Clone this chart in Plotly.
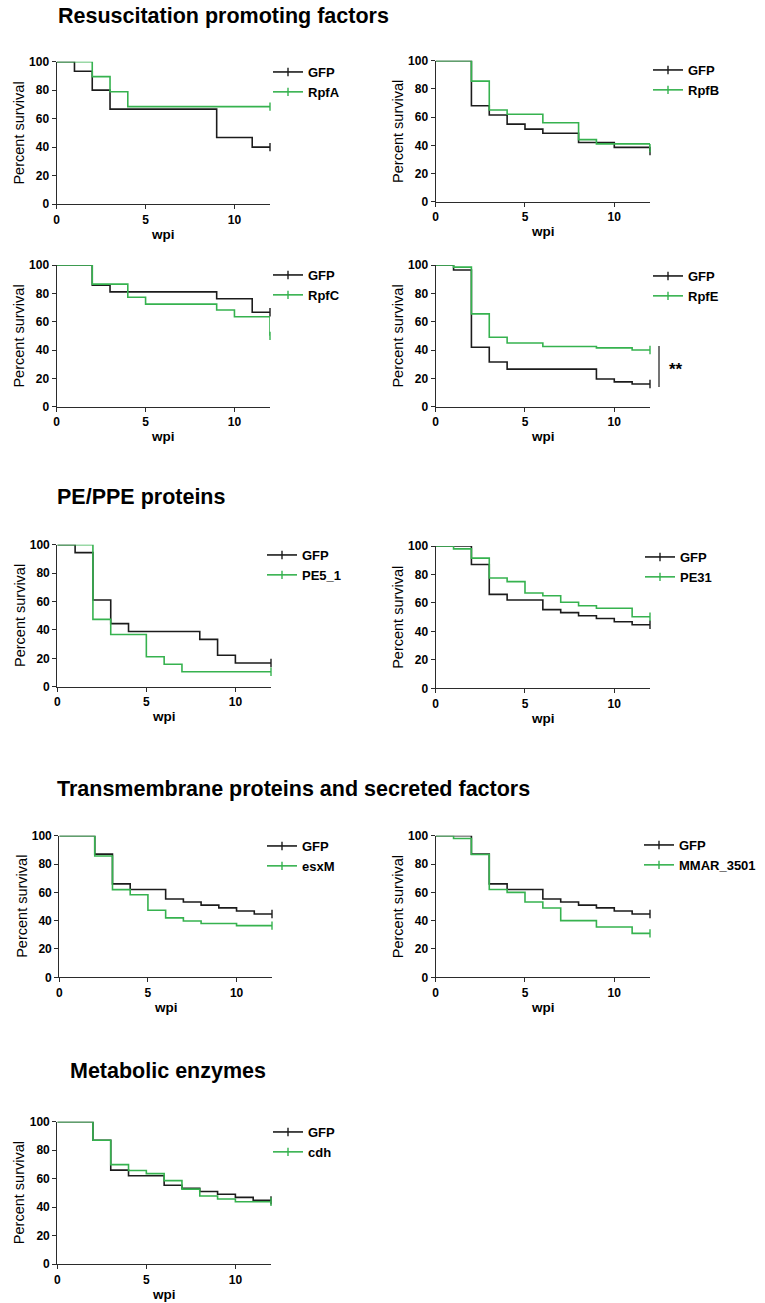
import plotly.graph_objects as go

W, H = 765, 1303
GREEN = "#36b24f"
BLACK = "#1c1c1c"
AXC = "#2b2b2b"
FONT = "Liberation Sans"

# ---------------- data (weeks post infection, percent survival) ----------------
gfp_a_t = [0, 1, 2, 3, 9, 11, 12]
gfp_a_s = [100, 93.3, 80, 66.7, 46.7, 40, 40]
rpfA_t = [0, 2, 3, 4, 12]
rpfA_s = [100, 89.5, 78.9, 68.4, 68.4]

gfp_b_t = [0, 2, 3, 4, 5, 6, 8, 10, 12]
gfp_b_s = [100, 68, 61.5, 55, 51.5, 48.5, 42, 38.5, 36]
rpfB_t = [0, 2, 3, 4, 6, 8, 9, 12]
rpfB_s = [100, 85.5, 65, 62, 56, 44, 41, 38]

gfp_c_t = [0, 2, 3, 9, 11, 12]
gfp_c_s = [100, 85.7, 81, 76.2, 66.7, 66.7]
rpfC_t = [0, 2, 4, 5, 9, 10, 12]
rpfC_s = [100, 86.5, 77.2, 72.4, 68.2, 63.5, 50]

gfp_e_t = [0, 1, 2, 3, 4, 9, 10, 11, 12]
gfp_e_s = [100, 96.5, 42, 31.5, 26.5, 19.5, 17.5, 16, 16]
rpfE_t = [0, 1, 2, 3, 4, 6, 9, 11, 12]
rpfE_s = [100, 98.5, 65.5, 49, 45, 42.5, 41.5, 40, 40]

gfp_pe5_t = [0, 1, 2, 3, 4, 8, 9, 10, 12]
gfp_pe5_s = [100, 94.4, 61.1, 44.4, 38.9, 33.3, 22.2, 16.7, 16.7]
pe5_t = [0, 2, 3, 5, 6, 7, 12]
pe5_s = [100, 47.4, 36.8, 21.1, 15.8, 10.5, 10.5]

gfp_tm_t = [0, 2, 3, 4, 6, 7, 8, 9, 10, 11, 12]
gfp_tm_s = [100, 87, 66, 62, 55.3, 53.2, 51, 49, 46.8, 44.7, 44.7]
pe31_t = [0, 1, 2, 3, 4, 5, 6, 7, 8, 9, 11, 12]
pe31_s = [100, 98, 91.5, 77.5, 75, 67, 65, 60.5, 58, 56.3, 50.3, 50.3]

esxM_t = [0, 2, 3, 4, 5, 6, 7, 8, 10, 12]
esxM_s = [100, 85.7, 61.9, 58.3, 47.4, 42, 39.8, 38, 36.5, 36.5]

mmar_t = [0, 1, 2, 3, 4, 5, 6, 7, 9, 11, 12]
mmar_s = [100, 98, 86.7, 62, 60, 53.2, 48.9, 40, 35.5, 31, 31]

cdh_t = [0, 2, 3, 4, 5, 6, 7, 8, 9, 10, 12]
cdh_s = [100, 87, 69.8, 65.7, 63.5, 58.6, 52.6, 47.8, 45.7, 43.7, 43.7]

x_ticks = [0, 5, 10]
y_ticks = [0, 20, 40, 60, 80, 100]
section_titles = ["Resuscitation promoting factors", "PE/PPE proteins",
                  "Transmembrane proteins and secreted factors", "Metabolic enzymes"]

panels = [
    (gfp_a_t, gfp_a_s, "RpfA", rpfA_t, rpfA_s),
    (gfp_b_t, gfp_b_s, "RpfB", rpfB_t, rpfB_s),
    (gfp_c_t, gfp_c_s, "RpfC", rpfC_t, rpfC_s),
    (gfp_e_t, gfp_e_s, "RpfE", rpfE_t, rpfE_s),
    (gfp_pe5_t, gfp_pe5_s, "PE5_1", pe5_t, pe5_s),
    (gfp_tm_t, gfp_tm_s, "PE31", pe31_t, pe31_s),
    (gfp_tm_t, gfp_tm_s, "esxM", esxM_t, esxM_s),
    (gfp_tm_t, gfp_tm_s, "MMAR_3501", mmar_t, mmar_s),
    (gfp_tm_t, gfp_tm_s, "cdh", cdh_t, cdh_s),
]

# ---------------- layout geometry (pixels) ----------------
boxes = [  # x at 0, x at 12, y at 100, y at 0
    (56.7, 270, 61.7, 204),
    (435.7, 650, 60.7, 201.7),
    (56.7, 270, 265, 406.7),
    (435.7, 650, 265, 406.7),
    (57.3, 271, 544.7, 686.7),
    (435.7, 650, 546, 688.3),
    (59.3, 272, 835.7, 977.3),
    (435.7, 650, 835.7, 977.3),
    (57.3, 271, 1121.7, 1264),
]
legend_xy = [  # left, top
    (268, 57), (648, 55), (268, 260), (648, 261), (262, 540),
    (640, 542), (262, 831), (639, 830), (268, 1117),
]
title_xy = [(56, 16), (55, 497), (55, 789), (68, 1071)]

fig = go.Figure()
layout = dict(
    template="none",
    width=W, height=H, autosize=False,
    margin=dict(l=0, r=0, t=0, b=0, pad=0),
    paper_bgcolor="white", plot_bgcolor="white",
    font=dict(family=FONT, color="black"),
    annotations=[], shapes=[],
)

bold = dict(family=FONT, size=12, color="black", weight="bold")

for i, (gt, gs, tname, tt, ts) in enumerate(panels):
    n = i + 1
    sfx = "" if n == 1 else str(n)
    xa, ya, lg = "x" + sfx, "y" + sfx, "legend" + sfx
    x0, x12, y100, y0 = boxes[i]
    for name, t, s, col in [("GFP", gt, gs, BLACK), (tname, tt, ts, GREEN)]:
        fig.add_trace(go.Scatter(
            x=t, y=s, mode="lines", line=dict(color=col, width=1.6, shape="hv"),
            xaxis=xa, yaxis=ya, showlegend=False, cliponaxis=False, hoverinfo="skip"))
        fig.add_trace(go.Scatter(
            x=t[-1:], y=s[-1:], mode="lines+markers", name=name,
            line=dict(color=col, width=1.6),
            marker=dict(symbol="line-ns-open", size=6, color=col,
                        line=dict(color=col, width=1.4)),
            xaxis=xa, yaxis=ya, legend=lg, cliponaxis=False, hoverinfo="skip"))
    layout["xaxis" + sfx] = dict(
        domain=[x0 / W, x12 / W], range=[0, 12], anchor=ya, tickvals=x_ticks,
        showline=True, linecolor=AXC, linewidth=1.3, ticks="outside", ticklen=4,
        tickwidth=1.3, tickcolor=AXC, tickfont=bold, showgrid=False, zeroline=False,
        automargin=False)
    layout["yaxis" + sfx] = dict(
        domain=[1 - y0 / H, 1 - y100 / H], range=[0, 100], anchor=xa, tickvals=y_ticks,
        showline=True, linecolor=AXC, linewidth=1.3, ticks="outside", ticklen=4,
        tickwidth=1.3, tickcolor=AXC, tickfont=bold, showgrid=False, zeroline=False,
        automargin=False)
    lx, ly = legend_xy[i]
    layout[lg] = dict(
        x=lx / W, y=1 - ly / H, xanchor="left", yanchor="top", xref="paper", yref="paper",
        font=dict(family=FONT, size=13, color="black", weight="bold"),
        bgcolor="rgba(0,0,0,0)", borderwidth=0, itemwidth=30, tracegroupgap=0)
    # axis titles
    layout["annotations"].append(dict(
        text="Percent survival", textangle=-90, x=(x0 - 38) / W, y=1 - (y0 + y100) / 2 / H,
        xref="paper", yref="paper", xanchor="center", yanchor="middle", showarrow=False,
        font=dict(family=FONT, size=14.5, color="black")))
    layout["annotations"].append(dict(
        text="wpi", x=(x0 + x12) / 2 / W, y=1 - (y0 + 30) / H,
        xref="paper", yref="paper", xanchor="center", yanchor="middle", showarrow=False,
        font=dict(family=FONT, size=13.5, color="black", weight="bold")))

for (tx, ty), txt in zip(title_xy, section_titles):
    layout["annotations"].append(dict(
        text=txt, x=tx / W, y=1 - ty / H, xref="paper", yref="paper",
        xanchor="left", yanchor="middle", showarrow=False,
        font=dict(family=FONT, size=21.5, color="black", weight="bold")))

# significance marker for RpfE
layout["shapes"].append(dict(type="line", xref="paper", yref="paper",
                             x0=659 / W, x1=659 / W, y0=1 - 346 / H, y1=1 - 387 / H,
                             line=dict(color=AXC, width=1.3)))
layout["annotations"].append(dict(
    text="**", x=676 / W, y=1 - 369 / H, xref="paper", yref="paper",
    xanchor="center", yanchor="middle", showarrow=False,
    font=dict(family=FONT, size=17, color="black", weight="bold")))

fig.update_layout(**layout)
fig.write_html("out.html", config={"displayModeBar": False},
               post_script="document.body.style.margin='0';document.body.style.padding='0';")
